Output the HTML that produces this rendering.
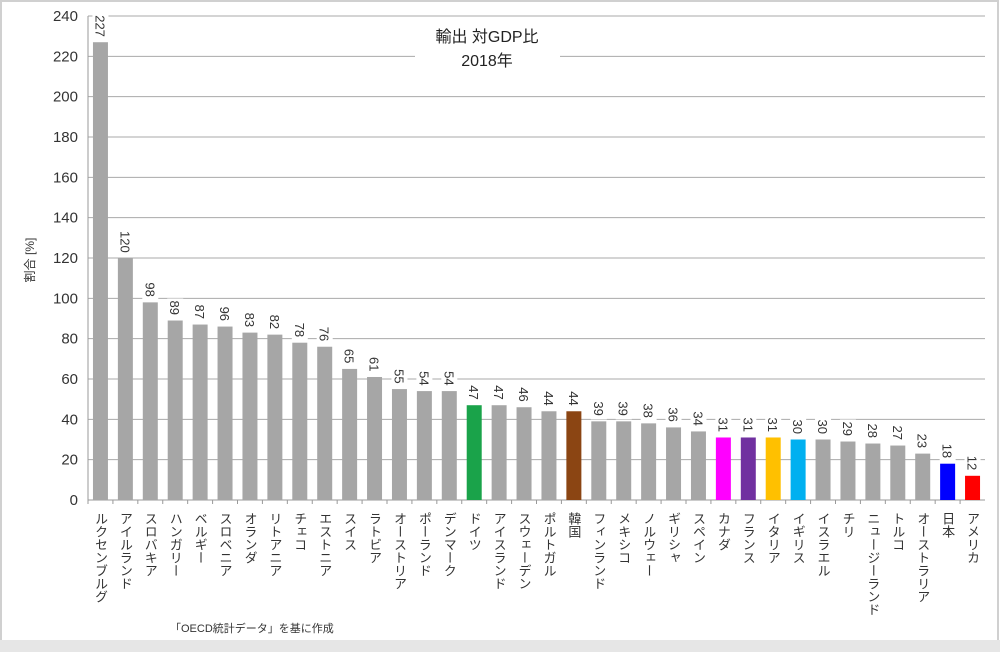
<!DOCTYPE html>
<html><head><meta charset="utf-8"><style>
body{margin:0;background:#fff}
svg{display:block}
text{font-family:"Liberation Sans","Noto Sans CJK JP",sans-serif}
</style></head><body>
<svg id="chart" width="1000" height="652" viewBox="0 0 1000 652">
<rect x="1" y="1" width="997" height="648" fill="#fff" stroke="#d0d0d0" stroke-width="2"/>
<rect x="0" y="640" width="1000" height="12" fill="#e6e6e6"/>
<g id="grid"></g>
<g id="bars"></g>
<rect x="415" y="20" width="145" height="55" fill="#fff"/>
<text x="487" y="42" text-anchor="middle" font-size="16" fill="#222">輸出 対GDP比</text>
<text x="487" y="66" text-anchor="middle" font-size="16" fill="#222">2018年</text>
<text transform="translate(34,260) rotate(-90)" text-anchor="middle" font-size="12" fill="#333">割合 [%]</text>
<text x="170" y="632" font-size="11" fill="#333">「OECD統計データ」を基に作成</text>
</svg>
<script>
const categories=["ルクセンブルグ","アイルランド","スロバキア","ハンガリー","ベルギー","スロベニア","オランダ","リトアニア","チェコ","エストニア","スイス","ラトビア","オーストリア","ポーランド","デンマーク","ドイツ","アイスランド","スウェーデン","ポルトガル","韓国","フィンランド","メキシコ","ノルウェー","ギリシャ","スペイン","カナダ","フランス","イタリア","イギリス","イスラエル","チリ","ニュージーランド","トルコ","オーストラリア","日本","アメリカ"];
const values=[227,120,98,89,87,86,83,82,78,76,65,61,55,54,54,47,47,46,44,44,39,39,38,36,34,31,31,31,30,30,29,28,27,23,18,12];
const valueLabels=["227","120","98","89","87","96","83","82","78","76","65","61","55","54","54","47","47","46","44","44","39","39","38","36","34","31","31","31","30","30","29","28","27","23","18","12"];
const barColors=["#a6a6a6","#a6a6a6","#a6a6a6","#a6a6a6","#a6a6a6","#a6a6a6","#a6a6a6","#a6a6a6","#a6a6a6","#a6a6a6","#a6a6a6","#a6a6a6","#a6a6a6","#a6a6a6","#a6a6a6","#1aa34a","#a6a6a6","#a6a6a6","#a6a6a6","#8b4513","#a6a6a6","#a6a6a6","#a6a6a6","#a6a6a6","#a6a6a6","#ff00ff","#7030a0","#ffc000","#00b0f0","#a6a6a6","#a6a6a6","#a6a6a6","#a6a6a6","#a6a6a6","#0000ff","#ff0000"];
const yTicks=[0,20,40,60,80,100,120,140,160,180,200,220,240];
const NS="http://www.w3.org/2000/svg";
const x0=88,x1=985,yBase=500,yTop=16,yMax=240;
const y=v=>yBase-(yBase-yTop)*v/yMax;
const step=(x1-x0)/categories.length;
const xc=i=>x0+step*(i+0.5);
function mk(tag,attrs,parent){const e=document.createElementNS(NS,tag);for(const k in attrs)e.setAttribute(k,attrs[k]);parent.appendChild(e);return e;}
const grid=document.getElementById('grid'),bars=document.getElementById('bars');
yTicks.forEach(t=>{
  const l=mk('line',{x1:x0,x2:x1,y1:y(t),y2:y(t),stroke:t===0?'#999':'#aaa','stroke-width':1},grid);
  
  
  const tx=mk('text',{x:78,y:y(t)+5,'text-anchor':'end','font-size':15,fill:'#333'},grid);
  tx.textContent=t;
  
  
});
const ax=mk('line',{x1:x0,x2:x0,y1:yTop,y2:yBase,stroke:'#999'},grid);


categories.forEach((c,i)=>{
  const cx=xc(i),v=values[i],bw=15;
  const tk=mk('line',{x1:x0+step*i,x2:x0+step*i,y1:yBase,y2:yBase+4,stroke:'#999'},bars);
  
  
  const r=mk('rect',{x:cx-bw/2,y:y(v),width:bw,height:yBase-y(v),fill:barColors[i]},bars);
  
  
  const lbl=valueLabels[i];
  const w=lbl.length*7+6;
  const bg=mk('rect',{x:cx-8,y:y(v)-w-2,width:16,height:w,fill:'#fff'},bars);
  
  
  const t=mk('text',{transform:`translate(${cx-5},${y(v)-w}) rotate(90)`,'font-size':13,fill:'#333'},bars);
  t.textContent=lbl;
  
  
  const ct=mk('text',{x:cx,y:512,'font-size':13,fill:'#333',style:'writing-mode:vertical-rl;text-orientation:upright'},bars);
  ct.textContent=c;
  
  
});
</script>
</body></html>
